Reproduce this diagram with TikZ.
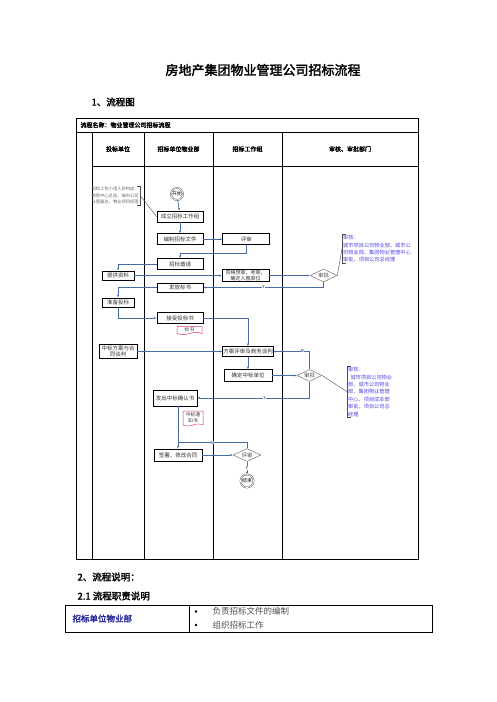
\documentclass[tikz,border=0pt]{standalone}
\usepackage{fontspec}
\setmainfont{Noto Sans CJK SC}
\newfontfamily\heavyfont{Noto Sans CJK SC}[FakeBold=2.2]
\usepackage{tikz}
\usetikzlibrary{
  arrows.meta,
  calc,
  positioning,
  shapes.geometric,
  shapes.symbols
}
\definecolor{FlowLine}{RGB}{70,110,165}
\definecolor{NoteText}{RGB}{80,70,220}
\definecolor{DocRed}{RGB}{215,60,85}
\definecolor{DeptBlue}{RGB}{40,40,150}

\begin{document}
\begin{tikzpicture}[
  x=1pt, y=-1pt,
  font=\fontsize{5.5}{6.5}\selectfont,
  >=Latex,
  box/.style={draw, line width=0.8pt, fill=white, align=center, text=black!80,
              minimum width=#1, minimum height=11pt, inner sep=0.5pt},
  box/.default=46pt,
  dia/.style={diamond, draw=black!55, line width=0.5pt, fill=white, aspect=2,
              minimum width=27pt, minimum height=13pt, inner sep=0pt, text=black!70},
  startend/.style={circle, draw=black!70, double, double distance=0.8pt,
                   minimum size=12pt, inner sep=0pt, font=\fontsize{4.8}{5}\selectfont},
  doc/.style={tape, tape bend top=none, tape bend height=2pt, draw=DocRed,
              line width=0.5pt, fill=white, align=center, inner sep=0.3pt,
              font=\fontsize{4.8}{5.6}\selectfont, text=black!75},
  note/.style={align=left, text=NoteText, inner sep=1pt,
               font=\fontsize{5.2}{7.4}\selectfont},
  flow/.style={->, draw=FlowLine, line width=0.7pt,
               -{Latex[length=2.5pt,width=2.2pt]}},
  flowplain/.style={draw=FlowLine, line width=0.7pt},
  link/.style={draw=black!70, line width=0.4pt},
  yn/.style={font=\fontsize{4}{4}\selectfont, fill=white, inner sep=0.2pt},
  grid/.style={line width=0.8pt},
  head/.style={font=\heavyfont\fontsize{6}{6}\selectfont},
]
  \useasboundingbox (0,0) rectangle (496,702);

  % headings
  \node[font=\heavyfont\fontsize{13}{13}\selectfont] (title) at (263,70) {房地产集团物业管理公司招标流程};
  \node[anchor=west, font=\heavyfont\fontsize{9.5}{9.5}\selectfont] (sec1) at (88,102) {1、流程图};

  % swim lanes
  \draw[grid] (76,118) rectangle (418,559);
  \draw[grid] (76,132) -- (418,132);
  \draw[grid] (92,166) -- (418,166);
  \foreach \lx in {92,144,213,282}
    \draw[grid] (\lx,132) -- (\lx,559);
  \node[head, anchor=west] (flowname) at (77,125) {流程名称：物业管理公司招标流程};
  \node[head] (lane1) at (118,149) {投标单位};
  \node[head] (lane2) at (178.5,149) {招标单位物业部};
  \node[head] (lane3) at (247.5,149) {招标工作组};
  \node[head] (lane4) at (350,149) {审核、审批部门};

  % flow nodes
  \node[startend] (start) at (177,194) {开始};
  \node[box] (team) at (180,216.5) {成立招标工作组};
  \node[box, below=11pt of team] (draft) {编制招标文件};
  \node[box=47pt, right=19pt of draft] (rev1) {评审};
  \node[box] (invite) at (180,264) {招标邀请};
  \node[box=32pt, minimum height=9pt] (supply) at (118,275.5) {提供资料};
  \node[box=47pt, minimum height=12pt, font=\fontsize{5}{5.5}\selectfont] (prequal) at (245.5,275.5) {资格预审，考察，\\确定入围单位};
  \node[dia] (appr1) at (323.5,275.5) {审批};
  \node[box, minimum height=9pt] (issue) at (180,287.5) {发放标书};
  \node[box=32pt, minimum height=9pt] (prep) at (118,302.5) {准备投标};
  \node[box] (recv) at (180,318) {接受投标书};
  \node[doc, minimum width=25pt, minimum height=8pt] (bid) at (189.5,329.5) {标书};
  \node[box=38pt, minimum height=14pt] (nego) at (118,351.5) {中标方案与合\\同谈判};
  \node[box=48pt, minimum height=10pt] (eval) at (248,351.5) {方案评审及商务谈判};
  \node[box=48pt, minimum height=12pt] (award) at (248,375.5) {确定中标单位};
  \node[dia, minimum width=25pt, minimum height=12pt] (appr2) at (309.5,375.5) {审批};
  \node[box=44pt, minimum height=16pt] (confirm) at (175,398) {发出中标确认书};
  \node[doc, minimum width=20pt, minimum height=15pt] (notice) at (193,417.5) {中标通\\知书};
  \node[box=48pt, minimum height=12pt] (sign) at (178,455) {签署、修改合同};
  \node[dia, minimum width=28pt] (rev2) at (247,455) {评审};
  \node[startend, minimum size=13pt] (stop) at (247,481) {结束};
  \coordinate (back) at ([yshift=6pt]sign.north);

  % notes
  \node[note, anchor=north east, text=black!60, font=\fontsize{4.3}{6.2}\selectfont] (teamnote) at (140,186)
    {招标工作小组人员构成：\\物管中心总监，城市公司\\分管副总，物业项目经理};
  \node[note, anchor=north west] (note1) at (342,234)
    {审核：\\城市项目公司物业部、城市公\\司物业部、集团物业管理中心\\审批，项目公司总经理};
  \node[note, anchor=north west] (note2) at (347,366)
    {审核：\\\ \ 城市项目公司物业\\部、城市公司物业\\部、集团物业管理\\中心、项目成本部\\审批，项目公司总\\经理};
  \draw[link, line width=0.7pt] ([xshift=-3pt]teamnote.north east) -- (teamnote.north east)
    -- (teamnote.south east) -- ([xshift=-3pt]teamnote.south east);
  \draw[link, line width=0.7pt] ([xshift=4pt]note1.north west) -- (note1.north west)
    -- (note1.south west) -- ([xshift=4pt]note1.south west);
  \draw[link, line width=0.7pt] ([xshift=4pt]note2.north west) -- (note2.north west)
    -- (note2.south west) -- ([xshift=4pt]note2.south west);
  \draw[link] (teamnote.east) -- (team.west);
  \draw[link] (appr1.east) -- (note1.west);
  \draw[link] (appr2.east) -- (note2.west);

  % connectors
  \draw[flow] (start) -- (team);
  \draw[flow] (team) -- (draft);
  \draw[flow] (draft) -- (rev1);
  \draw[flow] (rev1.south) -- ++(0,8) -| (invite.north);
  \draw[flow] (invite.west) -| (supply.north);
  \draw[flow] (supply.east) -- (supply.east -| prequal.west);
  \draw[flow] (prequal) -- (appr1);
  \draw[flow] (appr1.south) |- node[yn, pos=0.75] {Y} (issue.east);
  \draw[flow] (issue.west) -| (prep.north);
  \draw[flow] (prep.south) |- (recv.west);
  \draw[flow] (recv.east) -| (eval.north);
  \draw[flow] (nego) -- (eval);
  \draw[flow] (eval) -- (award);
  \draw[flow] (award) -- (appr2);
  \draw[flow] (appr2.north) |- node[yn, pos=0.6] {N} (eval.east);
  \draw[flow] (appr2.south) |- node[yn, pos=0.7] {Y} (confirm.east);
  \draw[flow] (confirm.south -| sign.north) -- (sign.north);
  \draw[flow] (sign) -- (rev2);
  \draw[flowplain] (rev2.north) |- node[yn, pos=0.75] {N} (back);
  \draw[flow] (rev2) -- node[yn] {Y} (stop);

  % explanation
  \node[anchor=west, font=\heavyfont\fontsize{9.5}{9.5}\selectfont] (sec2) at (74,577) {2、流程说明：};
  \node[anchor=west, font=\heavyfont\fontsize{9.5}{9.5}\selectfont] (sec21) at (74,596) {2.1 流程职责说明};
  \draw[grid] (65,605) rectangle (432,632);
  \draw[grid] (189,605) -- (189,632);
  \node[anchor=west, text=DeptBlue, font=\heavyfont\fontsize{8.5}{8.5}\selectfont] (dept) at (69,618.5) {招标单位物业部};
  \foreach \by/\txt [count=\i] in {611.5/负责招标文件的编制, 625/组织招标工作} {
    \node[circle, fill=black, inner sep=0pt, minimum size=2.6pt] (dot\i) at (196,\by) {};
    \node[anchor=west, text=black!70, font=\fontsize{8.5}{8.5}\selectfont] (duty\i) at (209,\by) {\txt};
  }
\end{tikzpicture}
\end{document}
